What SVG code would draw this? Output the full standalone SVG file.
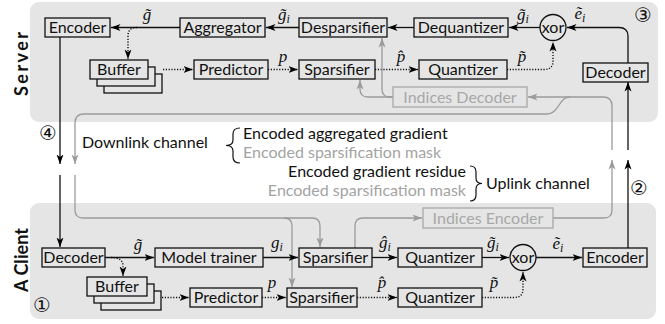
<svg xmlns="http://www.w3.org/2000/svg" width="665" height="324" viewBox="0 0 665 324">
  <defs>
    <marker id="ah" markerUnits="userSpaceOnUse" markerWidth="10" markerHeight="8" refX="9.5" refY="4" orient="auto">
      <path d="M0,0.5 L9.5,4 L0,7.5 L2.5,4 z" fill="#000"/>
    </marker>
    <marker id="ahg" markerUnits="userSpaceOnUse" markerWidth="10" markerHeight="8" refX="9.5" refY="4" orient="auto">
      <path d="M0,0.5 L9.5,4 L0,7.5 L2.5,4 z" fill="#9b9b9b"/>
    </marker>
    <style>
      .bg { fill: #e5e5e5; stroke: none; }
      .box { fill: #e5e5e5; stroke: #111; stroke-width: 1.3; }
      .gbox { fill: #e5e5e5; stroke: #a8a8a8; stroke-width: 1.3; }
      .lbl { font-family: Lato, "Liberation Sans", sans-serif; font-size: 16px; fill: #111; text-anchor: middle; }
      .glbl { font-family: Lato, "Liberation Sans", sans-serif; font-size: 16px; fill: #a8a8a8; text-anchor: middle; }
      .txt { font-family: Lato, "Liberation Sans", sans-serif; font-size: 16px; fill: #111; }
      .gtxt { font-family: Lato, "Liberation Sans", sans-serif; font-size: 16px; fill: #a3a3a3; }
      .side { font-family: Lato, "Liberation Sans", sans-serif; font-size: 18px; font-weight: bold; fill: #111; text-anchor: middle; }
      .math { font-family: "Liberation Serif", "Times New Roman", serif; font-style: italic; font-size: 17px; fill: #111; text-anchor: middle; }
      .num { font-family: "DejaVu Sans", sans-serif; font-size: 20px; fill: #111; text-anchor: middle; }
      .ln { fill: none; stroke: #111; stroke-width: 1.3; marker-end: url(#ah); }
      .dot { fill: none; stroke: #111; stroke-width: 1.4; stroke-dasharray: 1.2 1.6; marker-end: url(#ah); }
      .gln { fill: none; stroke: #9b9b9b; stroke-width: 1.3; marker-end: url(#ahg); }
      .brace { fill: none; stroke: #111; stroke-width: 1.2; }
    </style>
  </defs>

  <!-- areas -->
  <rect class="bg" x="30" y="2" width="628" height="120" rx="9"/>
  <rect class="bg" x="30" y="203" width="626" height="116" rx="9"/>
  <text class="side" transform="translate(28,64) rotate(-90)" textLength="64" lengthAdjust="spacing">Server</text>
  <text class="side" transform="translate(28,260) rotate(-90)" textLength="64" lengthAdjust="spacing">A Client</text>

  <!-- connectors -->
  <g id="connectors">
    <!-- server -->
    <path class="ln" d="M180 27.5 L111 27.5"/>
    <path class="dot" d="M137 27.5 Q128 27.5 128 36 L128 59"/>
    <path class="ln" d="M299 27.5 L266 27.5"/>
    <path class="ln" d="M414 27.5 L388 27.5"/>
    <path class="ln" d="M540 27.5 L509 27.5"/>
    <path class="ln" d="M628 63 L628 36 Q628 27.5 619 27.5 L567 27.5"/>
    <path class="dot" d="M163 69.5 L193 69.5"/>
    <path class="dot" d="M268 69.5 L298 69.5"/>
    <path class="dot" d="M375 69.5 L418 69.5"/>
    <path class="dot" d="M507 69.5 L544 69.5 Q553 69.5 553 61 L553 42"/>
    <path class="gln" d="M393 97 L390 97 Q382 97 382 89 L382 38"/>
    <path class="gln" d="M393 97 L368 97 Q360 97 360 89 L360 80"/>
    <path class="gln" d="M612 150 L612 106 Q612 97 603 97 L528 97"/>
    <path class="gln" d="M570 97 C 558 97 560 114 546 114 L84 114 Q75 114 75 123 L75 164"/>
    <path class="ln" d="M60 37 L60 164"/>
    <!-- client -->
    <path class="ln" d="M60 175 L60 247"/>
    <path class="gln" d="M75 175 L75 210 Q75 218 83 218 L284 218 Q292 218 292 226 L292 287"/>
    <path class="gln" d="M284 218 L312 218 Q320 218 320 226 L320 247"/>
    <path class="gln" d="M355 248 L355 226 Q355 218 363 218 L422 218"/>
    <path class="gln" d="M553 218 L604 218 Q612 218 612 210 L612 160"/>
    <path class="ln" d="M628 248 L628 160"/>
    <path class="ln" d="M628 150 L628 82"/>
    <path class="ln" d="M105 257.5 L154 257.5"/>
    <path class="dot" d="M111 257.5 Q123 257.5 123 266 L123 276"/>
    <path class="dot" d="M162 297.5 L189 297.5"/>
    <path class="ln" d="M263 257.5 L298 257.5"/>
    <path class="ln" d="M372 257.5 L397 257.5"/>
    <path class="ln" d="M482 257.5 L509 257.5"/>
    <path class="ln" d="M536 257.5 L582 257.5"/>
    <path class="dot" d="M262 297.5 L286 297.5"/>
    <path class="dot" d="M357 297.5 L397 297.5"/>
    <path class="dot" d="M482 297.5 L514 297.5 Q523 297.5 523 289 L523 272"/>
  </g>

  <!-- server nodes -->
  <g id="s-encoder"><rect class="box" x="45" y="18" width="65" height="19"/><text class="lbl" x="77.5" y="33">Encoder</text></g>
  <g id="s-aggregator"><rect class="box" x="180" y="18" width="85" height="19"/><text class="lbl" x="222.5" y="33">Aggregator</text></g>
  <g id="s-desparsifier"><rect class="box" x="299" y="18" width="88" height="19"/><text class="lbl" x="343" y="33">Desparsifier</text></g>
  <g id="s-dequantizer"><rect class="box" x="414" y="18" width="94" height="19"/><text class="lbl" x="461" y="33">Dequantizer</text></g>
  <g id="s-xor"><circle class="box" cx="553" cy="27.5" r="13"/><text class="lbl" x="553" y="32.5">xor</text></g>
  <g id="s-decoder"><rect class="box" x="583" y="63" width="65" height="19"/><text class="lbl" x="615.5" y="78">Decoder</text></g>
  <g id="s-buffer">
    <rect class="box" x="104" y="74" width="58" height="19"/>
    <rect class="box" x="97" y="67" width="58" height="19"/>
    <rect class="box" x="90" y="60" width="58" height="19"/>
    <text class="lbl" x="119" y="75">Buffer</text>
  </g>
  <g id="s-predictor"><rect class="box" x="194" y="60" width="74" height="19"/><text class="lbl" x="231" y="75">Predictor</text></g>
  <g id="s-sparsifier"><rect class="box" x="299" y="60" width="76" height="19"/><text class="lbl" x="337" y="75">Sparsifier</text></g>
  <g id="s-quantizer"><rect class="box" x="419" y="60" width="88" height="19"/><text class="lbl" x="463" y="75">Quantizer</text></g>
  <g id="s-indices-decoder"><rect class="gbox" x="393" y="87" width="134" height="20"/><text class="glbl" x="460" y="102.5">Indices Decoder</text></g>

  <!-- client nodes -->
  <g id="c-decoder"><rect class="box" x="42" y="248" width="63" height="19"/><text class="lbl" x="73.5" y="263">Decoder</text></g>
  <g id="c-trainer"><rect class="box" x="155" y="248" width="108" height="19"/><text class="lbl" x="209" y="263">Model trainer</text></g>
  <g id="c-sparsifier1"><rect class="box" x="299" y="248" width="73" height="19"/><text class="lbl" x="335.5" y="263">Sparsifier</text></g>
  <g id="c-quantizer1"><rect class="box" x="398" y="248" width="84" height="19"/><text class="lbl" x="440" y="263">Quantizer</text></g>
  <g id="c-xor"><circle class="box" cx="523" cy="257.5" r="13"/><text class="lbl" x="523" y="262.5">xor</text></g>
  <g id="c-encoder"><rect class="box" x="583" y="248" width="64" height="19"/><text class="lbl" x="615" y="263">Encoder</text></g>
  <g id="c-indices-encoder"><rect class="gbox" x="423" y="208" width="130" height="20"/><text class="glbl" x="488" y="223.5">Indices Encoder</text></g>
  <g id="c-buffer">
    <rect class="box" x="101" y="291" width="60" height="19"/>
    <rect class="box" x="94" y="284" width="60" height="19"/>
    <rect class="box" x="87" y="277" width="60" height="19"/>
    <text class="lbl" x="117" y="292">Buffer</text>
  </g>
  <g id="c-predictor"><rect class="box" x="190" y="288" width="72" height="19"/><text class="lbl" x="226" y="303">Predictor</text></g>
  <g id="c-sparsifier2"><rect class="box" x="287" y="288" width="70" height="19"/><text class="lbl" x="322" y="303">Sparsifier</text></g>
  <g id="c-quantizer2"><rect class="box" x="398" y="288" width="84" height="19"/><text class="lbl" x="440" y="303">Quantizer</text></g>

  <!-- edge labels -->
  <g id="labels">
    <text class="math" x="147" y="20">g&#x303;</text>
    <text class="math" x="284" y="20">g&#x303;<tspan font-size="12" dy="3">i</tspan></text>
    <text class="math" x="523" y="20">g&#x303;<tspan font-size="12" dy="3">i</tspan></text>
    <text class="math" x="580" y="19">&#x1EBD;<tspan font-size="12" dy="3">i</tspan></text>
    <text class="math" x="283" y="62">p</text>
    <text class="math" x="401" y="62">p&#x302;</text>
    <text class="math" x="522" y="62">p&#x303;</text>

    <text class="math" x="138" y="250">g&#x303;</text>
    <text class="math" x="277" y="248">g<tspan font-size="12" dy="3">i</tspan></text>
    <text class="math" x="385" y="248">&#x11D;<tspan font-size="12" dy="3">i</tspan></text>
    <text class="math" x="493" y="248">g&#x303;<tspan font-size="12" dy="3">i</tspan></text>
    <text class="math" x="558" y="249">&#x1EBD;<tspan font-size="12" dy="3">i</tspan></text>
    <text class="math" x="272" y="288">p</text>
    <text class="math" x="382" y="288">p&#x302;</text>
    <text class="math" x="494" y="288">p&#x303;</text>
  </g>

  <!-- step numbers -->
  <text class="num" x="643" y="22">&#x2462;</text>
  <text class="num" x="48" y="140">&#x2463;</text>
  <text class="num" x="639" y="195">&#x2461;</text>
  <text class="num" x="42" y="312">&#x2460;</text>

  <!-- channel captions -->
  <text class="txt" x="82" y="148">Downlink channel</text>
  <path class="brace" d="M240 128 Q233 128 233 134 L233 140 Q233 145.5 226 145.5 Q233 145.5 233 151 L233 157 Q233 163 240 163"/>
  <text class="txt" x="243" y="138.5">Encoded aggregated gradient</text>
  <text class="gtxt" x="243" y="158">Encoded sparsification mask</text>
  <text class="txt" x="466" y="176.5" text-anchor="end">Encoded gradient residue</text>
  <text class="gtxt" x="466" y="196" text-anchor="end">Encoded sparsification mask</text>
  <path class="brace" d="M470 166 Q476 166 476 172 L476 178 Q476 183.5 482 183.5 Q476 183.5 476 189 L476 195 Q476 201 470 201"/>
  <text class="txt" x="486" y="189">Uplink channel</text>
</svg>
